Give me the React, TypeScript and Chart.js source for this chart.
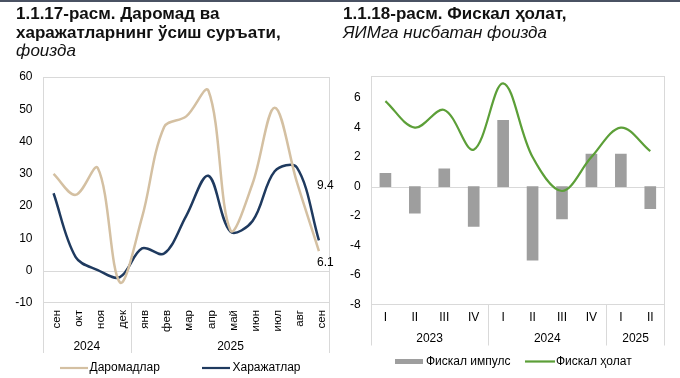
import React, { useEffect, useRef } from 'react';
import { Chart, registerables } from 'chart.js';

Chart.register(...registerables);

const FONT = '"Liberation Sans", Arial, Helvetica, sans-serif';

// ---- Left chart data ----
const monthLabels = ['сен', 'окт', 'ноя', 'дек', 'янв', 'фев', 'мар', 'апр', 'май', 'июн', 'июл', 'авг', 'сен'];
const monthYearLabels = ['2024', '2025'];
const monthYearSpans = [4, 9];
const incomeValues = [30, 23.5, 31.8, -3.6, 16.5, 44.5, 47.8, 55.8, 12.5, 27, 50.5, 27.5, 6.1];
const expenseValues = [24, 4.2, 0.2, -2, 6.9, 5.3, 17, 29.4, 12.1, 15.4, 30.8, 32, 9.4];
const leftSeriesNames = ['Даромадлар', 'Харажатлар'];

// ---- Right chart data ----
const quarterLabels = ['I', 'II', 'III', 'IV', 'I', 'II', 'III', 'IV', 'I', 'II'];
const quarterYearLabels = ['2023', '2024', '2025'];
const quarterYearSpans = [4, 4, 2];
const impulseValues = [0.9, -1.8, 1.2, -2.7, 4.5, -5.0, -2.2, 2.2, 2.2, -1.5];
const stanceValues = [5.8, 4.0, 5.2, 2.5, 7.0, 2.0, -0.3, 2.0, 4.0, 2.4];
const rightSeriesNames = ['Фискал импулс', 'Фискал ҳолат'];

const TAN = '#d4c0a2';
const NAVY = '#1f3a5f';
const GREEN = '#5c9f38';
const GRAY = '#9e9e9e';
const LINE_GRAY = '#d9d9d9';

type LegendItem = { kind: 'line' | 'rect'; ds: number; x0: number; x1: number; tx: number };
type FrameCfg = {
  yearLabels: string[];
  spans: number[];
  yearDy: number;
  sepDy: number;
  legendDy: number;
  legend: LegendItem[];
  valueLabels?: { ds: number; dx: number; dy: number }[];
};

function makeFramePlugin(cfg: FrameCfg) {
  return {
    id: 'frameDecor',
    beforeDatasetsDraw(chart: any) {
      const { ctx, chartArea: a, scales } = chart;
      ctx.save();
      ctx.strokeStyle = LINE_GRAY;
      ctx.lineWidth = 1;
      const l = Math.round(a.left) + 0.5;
      const r = Math.round(a.right) - 0.5;
      const t = Math.round(a.top) + 0.5;
      const b = Math.round(a.bottom) - 0.5;
      ctx.strokeRect(l, t, r - l, b - t);
      const y0 = Math.round(scales.y.getPixelForValue(0)) + 0.5;
      ctx.beginPath();
      ctx.moveTo(l, y0);
      ctx.lineTo(r, y0);
      ctx.stroke();
      ctx.restore();
    },
    afterDraw(chart: any) {
      const { ctx, chartArea: a, scales } = chart;
      const xs = scales.x;
      const n = chart.data.labels.length;
      const boundary = (i: number) => {
        if (i <= 0) return a.left;
        if (i >= n) return a.right;
        return (xs.getPixelForValue(i - 1) + xs.getPixelForValue(i)) / 2;
      };
      ctx.save();
      ctx.strokeStyle = LINE_GRAY;
      ctx.lineWidth = 1;
      ctx.fillStyle = '#000';
      ctx.font = `12px ${FONT}`;
      ctx.textAlign = 'center';
      ctx.textBaseline = 'middle';
      let idx = 0;
      const bounds = [0];
      cfg.spans.forEach((s) => {
        idx += s;
        bounds.push(idx);
      });
      bounds.forEach((bi) => {
        let x = Math.round(boundary(bi)) + 0.5;
        if (bi === n) x = Math.round(a.right) - 0.5;
        ctx.beginPath();
        ctx.moveTo(x, a.bottom);
        ctx.lineTo(x, a.bottom + cfg.sepDy);
        ctx.stroke();
      });
      cfg.yearLabels.forEach((lab, k) => {
        const cx = (boundary(bounds[k]) + boundary(bounds[k + 1])) / 2;
        ctx.fillText(lab, cx, a.bottom + cfg.yearDy);
      });
      // legend
      const ly = a.bottom + cfg.legendDy;
      cfg.legend.forEach((it) => {
        const ds = chart.data.datasets[it.ds];
        if (it.kind === 'line') {
          ctx.strokeStyle = ds.borderColor;
          ctx.lineWidth = 2.2;
          ctx.beginPath();
          ctx.moveTo(it.x0, ly);
          ctx.lineTo(it.x1, ly);
          ctx.stroke();
        } else {
          ctx.fillStyle = ds.backgroundColor;
          ctx.fillRect(it.x0, ly - 2.5, it.x1 - it.x0, 5);
        }
        ctx.fillStyle = '#000';
        ctx.textAlign = 'left';
        ctx.fillText(ds.label, it.tx, ly);
      });
      // value labels
      (cfg.valueLabels || []).forEach((v) => {
        const data = chart.data.datasets[v.ds].data;
        const last = data.length - 1;
        const px = xs.getPixelForValue(last);
        const py = scales.y.getPixelForValue(data[last]);
        ctx.fillStyle = '#000';
        ctx.textAlign = 'center';
        ctx.fillText(Number(data[last]).toFixed(1), px + v.dx, py + v.dy);
      });
      ctx.restore();
    },
  };
}

function LeftChart() {
  const ref = useRef<HTMLCanvasElement>(null);
  useEffect(() => {
    const plugin = makeFramePlugin({
      yearLabels: monthYearLabels,
      spans: monthYearSpans,
      yearDy: 44,
      sepDy: 50,
      legendDy: 65,
      legend: [
        { kind: 'line', ds: 0, x0: 60, x1: 88, tx: 89.5 },
        { kind: 'line', ds: 1, x0: 202, x1: 230, tx: 232.5 },
      ],
      valueLabels: [
        { ds: 1, dx: 6.5, dy: -55 },
        { ds: 0, dx: 6.5, dy: 12 },
      ],
    });
    const chart = new Chart(ref.current!, {
      type: 'line',
      data: {
        labels: monthLabels,
        datasets: [
          {
            label: leftSeriesNames[0],
            data: incomeValues,
            borderColor: TAN,
            backgroundColor: TAN,
            borderWidth: 2.5,
            pointRadius: 0,
            tension: 0.35,
            fill: false,
          },
          {
            label: leftSeriesNames[1],
            data: expenseValues,
            borderColor: NAVY,
            backgroundColor: NAVY,
            borderWidth: 2.5,
            pointRadius: 0,
            tension: 0.35,
            fill: false,
          },
        ],
      },
      options: {
        responsive: false,
        animation: false,
        devicePixelRatio: 1,
        layout: { padding: { left: 0, right: 7, top: 77, bottom: 0 } },
        plugins: { legend: { display: false }, tooltip: { enabled: false } },
        scales: {
          x: {
            type: 'category',
            offset: true,
            grid: { display: false, drawTicks: false },
            border: { display: false },
            ticks: {
              autoSkip: false,
              minRotation: 90,
              maxRotation: 90,
              padding: 7,
              labelOffset: 3,
              color: '#000',
              font: { family: FONT, size: 11.5 },
            },
            afterFit: (s: any) => {
              s.height = 75;
            },
          },
          y: {
            min: -10,
            max: 60,
            grid: { display: false, drawTicks: false },
            border: { display: false },
            ticks: {
              stepSize: 10,
              padding: 10,
              color: '#000',
              font: { family: FONT, size: 12 },
            },
            afterFit: (s: any) => {
              s.width = 42.5;
            },
          },
        },
      },
      plugins: [plugin],
    } as any);
    return () => chart.destroy();
  }, []);
  return (
    <canvas
      ref={ref}
      width={340}
      height={378}
      style={{ position: 'absolute', left: 0, top: 0, width: 340, height: 378 }}
    />
  );
}

function RightChart() {
  const ref = useRef<HTMLCanvasElement>(null);
  useEffect(() => {
    const plugin = makeFramePlugin({
      yearLabels: quarterYearLabels,
      spans: quarterYearSpans,
      yearDy: 34.5,
      sepDy: 41,
      legendDy: 57,
      legend: [
        { kind: 'rect', ds: 0, x0: 55, x1: 83, tx: 86 },
        { kind: 'line', ds: 1, x0: 185, x1: 215, tx: 216 },
      ],
    });
    const chart = new Chart(ref.current!, {
      type: 'bar',
      data: {
        labels: quarterLabels,
        datasets: [
          {
            type: 'bar',
            label: rightSeriesNames[0],
            data: impulseValues,
            backgroundColor: GRAY,
            borderColor: GRAY,
            barThickness: 11,
            order: 2,
          },
          {
            type: 'line',
            label: rightSeriesNames[1],
            data: stanceValues,
            borderColor: GREEN,
            backgroundColor: GREEN,
            borderWidth: 2.2,
            pointRadius: 0,
            tension: 0.35,
            fill: false,
            order: 1,
          },
        ],
      },
      options: {
        responsive: false,
        animation: false,
        devicePixelRatio: 1,
        layout: { padding: { left: 0, right: 15, top: 76, bottom: 0 } },
        plugins: { legend: { display: false }, tooltip: { enabled: false } },
        scales: {
          x: {
            type: 'category',
            offset: true,
            grid: { display: false, drawTicks: false },
            border: { display: false },
            ticks: {
              autoSkip: false,
              minRotation: 0,
              maxRotation: 0,
              padding: 6,
              color: '#000',
              font: { family: FONT, size: 12 },
            },
            afterFit: (s: any) => {
              s.height = 73.5;
            },
          },
          y: {
            min: -8,
            max: 7.5,
            grid: { display: false, drawTicks: false },
            border: { display: false },
            ticks: {
              stepSize: 2,
              padding: 10,
              color: '#000',
              font: { family: FONT, size: 12 },
            },
            afterBuildTicks: (s: any) => {
              s.ticks = s.ticks.filter((t: any) => Math.abs(t.value % 2) < 1e-9);
            },
            afterFit: (s: any) => {
              s.width = 30.7;
            },
          },
        },
      },
      plugins: [plugin],
    } as any);
    return () => chart.destroy();
  }, []);
  return (
    <canvas
      ref={ref}
      width={340}
      height={378}
      style={{ position: 'absolute', left: 340, top: 0, width: 340, height: 378 }}
    />
  );
}

const titleBold: React.CSSProperties = {
  fontWeight: 'bold',
  fontSize: 17,
  lineHeight: '18.5px',
  color: '#111',
  whiteSpace: 'nowrap',
};
const titleItalic: React.CSSProperties = {
  fontStyle: 'italic',
  fontSize: 17,
  lineHeight: '18.5px',
  color: '#111',
  whiteSpace: 'nowrap',
};

export default function App() {
  return (
    <div
      style={{
        position: 'fixed',
        left: 0,
        top: 0,
        width: 680,
        height: 378,
        background: '#fff',
        overflow: 'hidden',
        fontFamily: FONT,
      }}
    >
      <LeftChart />
      <RightChart />
      <div style={{ position: 'absolute', left: 0, top: 0, width: 680, height: 2, background: '#4a5263' }} />
      <div style={{ position: 'absolute', left: 16, top: 5 }}>
        <div style={titleBold}>1.1.17-расм. Даромад ва</div>
        <div style={titleBold}>харажатларнинг ўсиш суръати,</div>
        <div style={titleItalic}>фоизда</div>
      </div>
      <div style={{ position: 'absolute', left: 343, top: 5 }}>
        <div style={titleBold}>1.1.18-расм. Фискал ҳолат,</div>
        <div style={titleItalic}>ЯИМга нисбатан фоизда</div>
      </div>
    </div>
  );
}
